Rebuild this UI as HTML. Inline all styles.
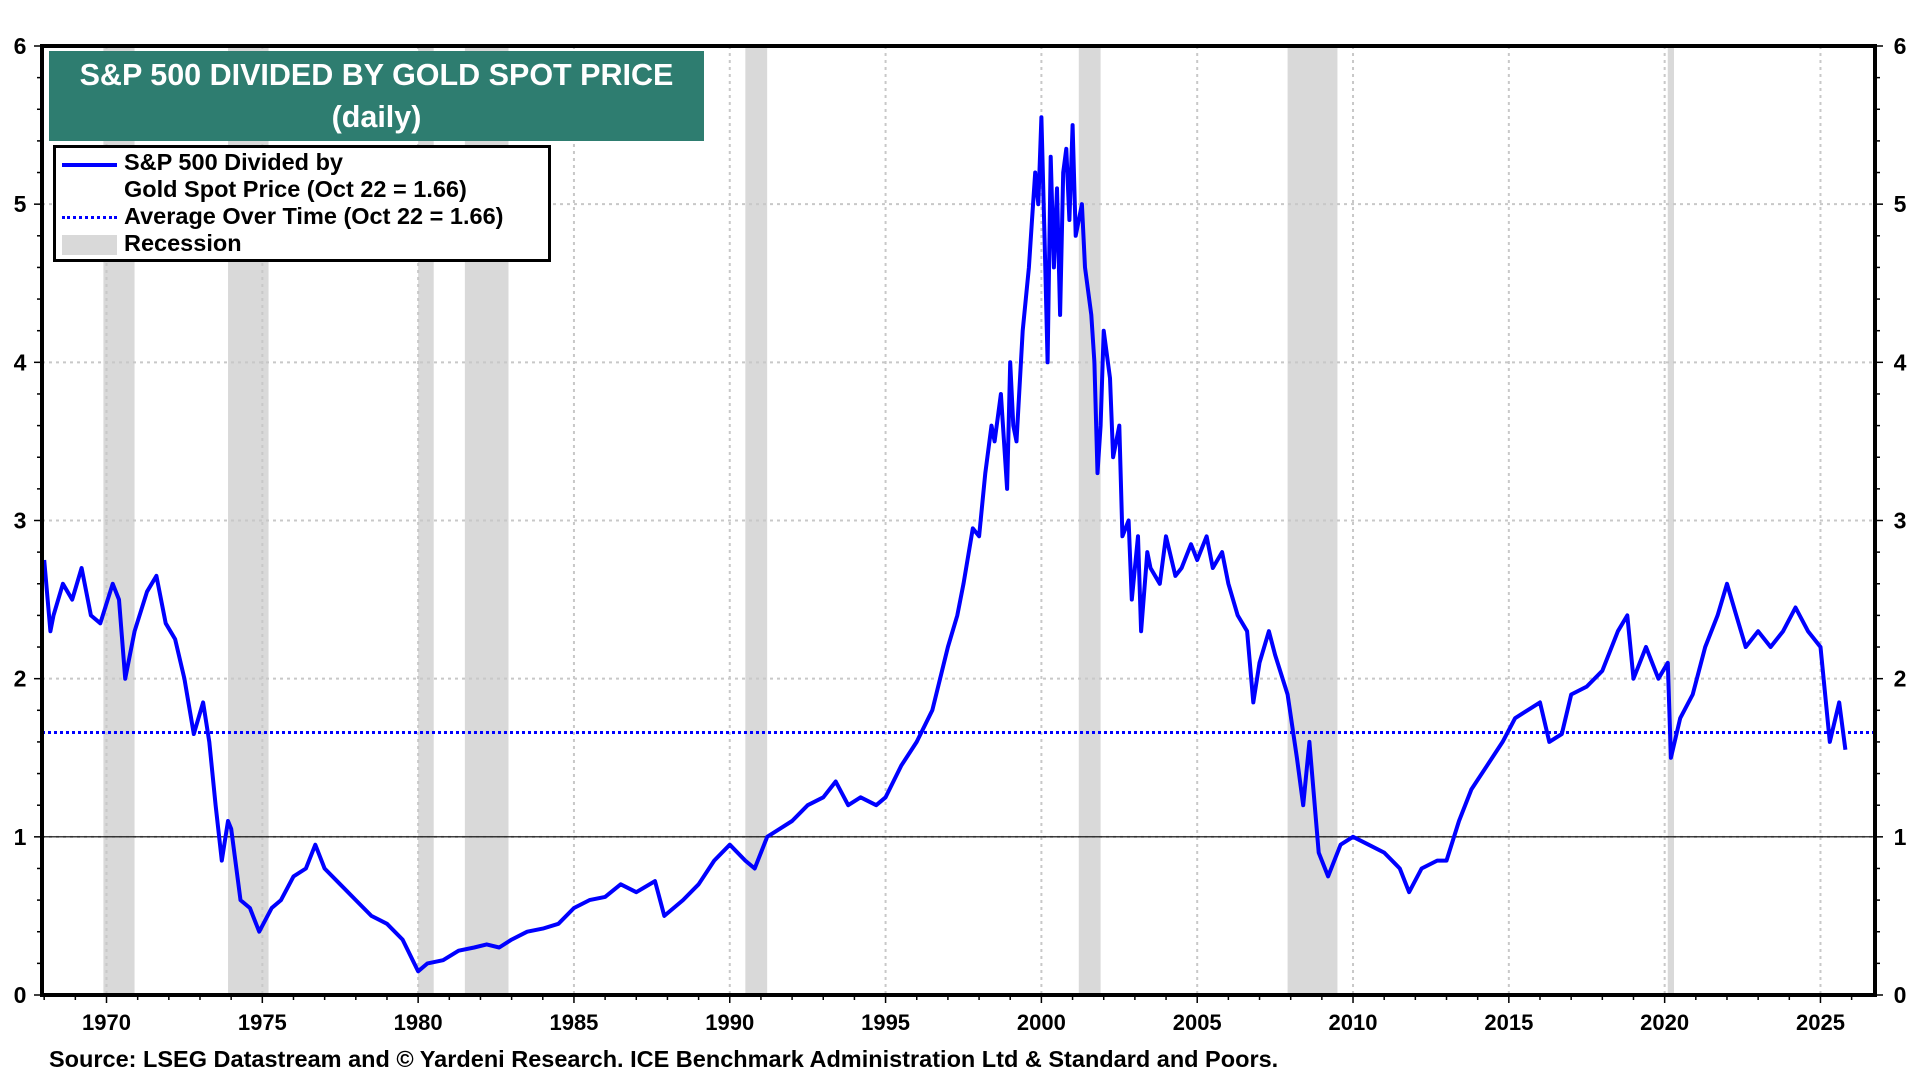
<!DOCTYPE html>
<html><head><meta charset="utf-8"><style>
body{margin:0;background:#fff;width:1920px;height:1080px;overflow:hidden;font-family:"Liberation Sans",Arial,sans-serif}
svg{position:absolute;left:0;top:0}
text{font-family:"Liberation Sans",Arial,sans-serif;font-weight:bold}
</style></head><body>
<svg id="chart" width="1920" height="1080" viewBox="0 0 1920 1080"></svg>
<script>
const years=[1968.0,1968.2,1968.3,1968.6,1968.9,1969.2,1969.5,1969.8,1970.2,1970.4,1970.6,1970.9,1971.3,1971.6,1971.9,1972.2,1972.5,1972.8,1973.1,1973.3,1973.5,1973.7,1973.9,1974.0,1974.3,1974.6,1974.9,1975.3,1975.6,1976.0,1976.4,1976.7,1977.0,1977.5,1978.0,1978.5,1979.0,1979.5,1980.0,1980.3,1980.8,1981.3,1981.8,1982.2,1982.6,1983.0,1983.5,1984.0,1984.5,1985.0,1985.5,1986.0,1986.5,1987.0,1987.6,1987.9,1988.5,1989.0,1989.5,1990.0,1990.5,1990.8,1991.2,1991.6,1992.0,1992.5,1993.0,1993.4,1993.8,1994.2,1994.7,1995.0,1995.5,1996.0,1996.5,1997.0,1997.3,1997.5,1997.8,1998.0,1998.2,1998.4,1998.5,1998.7,1998.9,1999.0,1999.1,1999.2,1999.4,1999.5,1999.6,1999.7,1999.8,1999.9,2000.0,2000.1,2000.2,2000.3,2000.4,2000.5,2000.6,2000.7,2000.8,2000.9,2001.0,2001.1,2001.3,2001.4,2001.6,2001.7,2001.8,2001.9,2002.0,2002.2,2002.3,2002.5,2002.6,2002.8,2002.9,2003.1,2003.2,2003.4,2003.5,2003.8,2004.0,2004.3,2004.5,2004.8,2005.0,2005.3,2005.5,2005.8,2006.0,2006.3,2006.6,2006.8,2007.0,2007.3,2007.5,2007.9,2008.2,2008.4,2008.6,2008.9,2009.2,2009.6,2010.0,2010.5,2011.0,2011.5,2011.8,2012.2,2012.7,2013.0,2013.4,2013.8,2014.3,2014.8,2015.2,2015.6,2016.0,2016.3,2016.7,2017.0,2017.5,2018.0,2018.5,2018.8,2019.0,2019.4,2019.8,2020.1,2020.2,2020.5,2020.9,2021.3,2021.7,2022.0,2022.3,2022.6,2023.0,2023.4,2023.8,2024.2,2024.6,2025.0,2025.3,2025.6,2025.8];
const ratio=[2.75,2.3,2.4,2.6,2.5,2.7,2.4,2.35,2.6,2.5,2.0,2.3,2.55,2.65,2.35,2.25,2.0,1.65,1.85,1.6,1.2,0.85,1.1,1.05,0.6,0.55,0.4,0.55,0.6,0.75,0.8,0.95,0.8,0.7,0.6,0.5,0.45,0.35,0.15,0.2,0.22,0.28,0.3,0.32,0.3,0.35,0.4,0.42,0.45,0.55,0.6,0.62,0.7,0.65,0.72,0.5,0.6,0.7,0.85,0.95,0.85,0.8,1.0,1.05,1.1,1.2,1.25,1.35,1.2,1.25,1.2,1.25,1.45,1.6,1.8,2.2,2.4,2.6,2.95,2.9,3.3,3.6,3.5,3.8,3.2,4.0,3.6,3.5,4.2,4.4,4.6,4.9,5.2,5.0,5.55,4.8,4.0,5.3,4.6,5.1,4.3,5.2,5.35,4.9,5.5,4.8,5.0,4.6,4.3,4.0,3.3,3.6,4.2,3.9,3.4,3.6,2.9,3.0,2.5,2.9,2.3,2.8,2.7,2.6,2.9,2.65,2.7,2.85,2.75,2.9,2.7,2.8,2.6,2.4,2.3,1.85,2.1,2.3,2.15,1.9,1.5,1.2,1.6,0.9,0.75,0.95,1.0,0.95,0.9,0.8,0.65,0.8,0.85,0.85,1.1,1.3,1.45,1.6,1.75,1.8,1.85,1.6,1.65,1.9,1.95,2.05,2.3,2.4,2.0,2.2,2.0,2.1,1.5,1.75,1.9,2.2,2.4,2.6,2.4,2.2,2.3,2.2,2.3,2.45,2.3,2.2,1.6,1.85,1.55];
const average=[1.66];
const recStart=[1969.9,1973.9,1980.0,1981.5,1990.5,2001.2,2007.9,2020.1];
const recEnd=[1970.9,1975.2,1980.5,1982.9,1991.2,2001.9,2009.5,2020.3];
const xTickLabels=[1970,1975,1980,1985,1990,1995,2000,2005,2010,2015,2020,2025];
const yTickLabels=[0,1,2,3,4,5,6];

const L=42,R=1875,T=46,B=995;
const X0=1967.93,X1=2026.75;
const x=v=>L+(v-X0)/(X1-X0)*(R-L);
const y=v=>B-v/6*(B-T);
const svg=document.getElementById('chart');
const NS='http://www.w3.org/2000/svg';
function mk(tag,attrs,parent){const e=document.createElementNS(NS,tag);for(const k in attrs)e.setAttribute(k,attrs[k]);(parent||svg).appendChild(e);return e;}

recStart.forEach((s,i)=>{
  const r=mk('rect',{x:x(s),y:T,width:x(recEnd[i])-x(s),height:B-T,fill:'#d9d9d9'});
  
  
});
yTickLabels.forEach(v=>{
  if(v>0&&v<6){const g=mk('line',{x1:L,x2:R,y1:y(v),y2:y(v),stroke:'#c8c8c8','stroke-width':2,'stroke-dasharray':'3 4'});
  
  }
});
xTickLabels.forEach(v=>{
  const g=mk('line',{x1:x(v),x2:x(v),y1:T,y2:B,stroke:'#c8c8c8','stroke-width':2,'stroke-dasharray':'3 4'});
  
  
});
const one=mk('line',{x1:L,x2:R,y1:y(1),y2:y(1),stroke:'#000','stroke-width':1.2});


const av=mk('line',{x1:L,x2:R,y1:y(average[0]),y2:y(average[0]),stroke:'#0000ff','stroke-width':3,'stroke-dasharray':'3 3'});


const pts=years.map((yr,i)=>x(yr).toFixed(1)+','+y(ratio[i]).toFixed(1)).join(' ');
const pl=mk('polyline',{points:pts,fill:'none',stroke:'#0000ff','stroke-width':4,'stroke-linejoin':'round'});


const fr=mk('rect',{x:L,y:T,width:R-L,height:B-T,fill:'none',stroke:'#000','stroke-width':4});


for(let v=0;v<=6.001;v+=0.2){
  const major=Math.abs(v-Math.round(v))<0.01;
  const len=major?8:5;
  mk('line',{x1:L-len,x2:L,y1:y(v),y2:y(v),stroke:'#000','stroke-width':1.5});
  mk('line',{x1:R,x2:R+len,y1:y(v),y2:y(v),stroke:'#000','stroke-width':1.5});
}
yTickLabels.forEach(v=>{
  const a=mk('text',{x:20,y:y(v)+8,'font-size':23,'text-anchor':'middle'});a.textContent=v;
  
  
  const b=mk('text',{x:1900,y:y(v)+8,'font-size':23,'text-anchor':'middle'});b.textContent=v;
  
  
});
for(let yr=1968;yr<=2026;yr++){
  mk('line',{x1:x(yr),x2:x(yr),y1:B,y2:B+(yr%5===0?8:5),stroke:'#000','stroke-width':1.5});
}
xTickLabels.forEach(v=>{
  const t=mk('text',{x:x(v),y:1030,'font-size':22,'text-anchor':'middle'});t.textContent=v;
  
  
});
</script>
<div style="position:absolute;left:49px;top:51px;width:655px;height:90px;background:#2e7d70;color:#fff;font-weight:bold;font-size:30.5px;text-align:center;line-height:42px;padding-top:3px;box-sizing:border-box;white-space:nowrap">S&amp;P 500 DIVIDED BY GOLD SPOT PRICE<br>(daily)</div>
<div style="position:absolute;left:53px;top:145px;width:498px;height:117px;border:3px solid #000;box-sizing:border-box;background:#fff;font-weight:bold;font-size:23.5px;line-height:27px">
  <div style="position:absolute;left:68px;top:1px;white-space:nowrap">S&amp;P 500 Divided by<br>Gold Spot Price (Oct 22 = 1.66)</div>
  <div style="position:absolute;left:6px;top:15px;width:55px;height:4px;background:#0000ff"></div>
  <div style="position:absolute;left:68px;top:55px;white-space:nowrap">Average Over Time (Oct 22 = 1.66)</div>
  <div style="position:absolute;left:6px;top:68px;width:55px;height:0;border-top:3px dotted #0000ff"></div>
  <div style="position:absolute;left:68px;top:82px;white-space:nowrap">Recession</div>
  <div style="position:absolute;left:6px;top:87px;width:55px;height:20px;background:#d9d9d9"></div>
</div>
<div style="position:absolute;left:49px;top:1046px;font-weight:bold;font-size:23.5px;white-space:nowrap">Source: LSEG Datastream and © Yardeni Research. ICE Benchmark Administration Ltd &amp; Standard and Poors.</div>
</body></html>
